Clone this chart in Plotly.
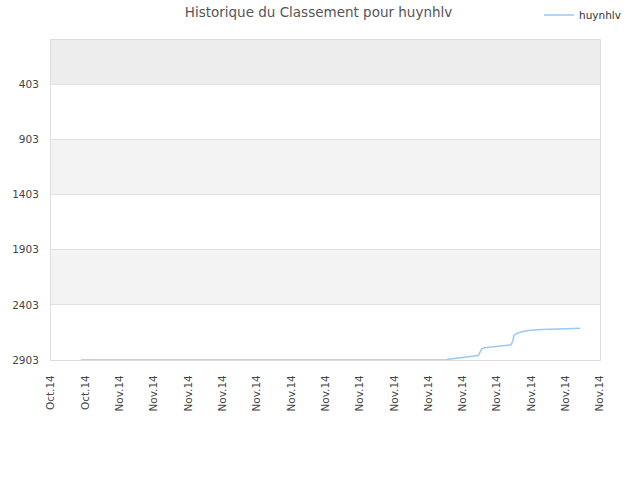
import plotly.graph_objects as go

# Data
dates = [
    "2014-10-30 18:00", "2014-11-21 02:00", "2014-11-21 03:20", "2014-11-21 15:30",
    "2014-11-22 04:30", "2014-11-22 16:00", "2014-11-22 21:50", "2014-11-23 00:10",
    "2014-11-23 02:30", "2014-11-23 07:10", "2014-11-23 18:45", "2014-11-24 06:30",
    "2014-11-24 19:30", "2014-11-24 21:50", "2014-11-24 23:45", "2014-11-25 03:30",
    "2014-11-25 10:30", "2014-11-25 19:40", "2014-11-26 14:25", "2014-11-28 01:20",
    "2014-11-28 20:00",
]
ranks = [
    2903, 2903, 2896, 2887,
    2880, 2869, 2862, 2832,
    2802, 2792, 2783, 2774,
    2765, 2733, 2681, 2661,
    2647, 2636, 2627, 2620,
    2615,
]

x_tick_dates = [
    "2014-10-29", "2014-10-31", "2014-11-02", "2014-11-04", "2014-11-06",
    "2014-11-08", "2014-11-10", "2014-11-12", "2014-11-14", "2014-11-16",
    "2014-11-18", "2014-11-20", "2014-11-22", "2014-11-24", "2014-11-26",
    "2014-11-28", "2014-11-30",
]
x_tick_labels = ["Oct.14", "Oct.14"] + ["Nov.14"] * 15
y_ticks = [403, 903, 1403, 1903, 2403, 2903]
y_range = [2903, 3]

fig = go.Figure()
fig.add_trace(go.Scatter(
    x=dates, y=ranks, mode="lines", name="huynhlv",
    line=dict(color="#99c9f7", width=1.5),
))

# alternating bands
band_edges = [y_range[1]] + y_ticks
for i in range(len(band_edges) - 1):
    lo, hi = band_edges[i], band_edges[i + 1]
    idx_from_bottom = len(band_edges) - 2 - i
    if i == 0:
        color = "#ededed"
    elif idx_from_bottom % 2 == 1:
        color = "#f3f3f3"
    else:
        continue
    fig.add_shape(type="rect", xref="paper", yref="y", x0=0, x1=1, y0=lo, y1=hi,
                  fillcolor=color, line_width=0, layer="below")

tick_font = dict(family="DejaVu Sans", size=10.5, color="#444444")

fig.update_layout(
    width=640, height=480,
    margin=dict(l=51, r=40, t=40, b=120, autoexpand=False),
    paper_bgcolor="white", plot_bgcolor="white",
    font=dict(family="DejaVu Sans", size=9, color="#333333"),
    title=dict(text="Historique du Classement pour huynhlv", x=318.5 / 640, xanchor="center",
               xref="container", yref="container",
               y=1 - 12 / 480, yanchor="middle", font=dict(size=13.5, color="#555555")),
    showlegend=True,
    legend=dict(xref="container", yref="container", x=626 / 640, xanchor="right",
                y=1 - 15 / 480, yanchor="middle", bgcolor="rgba(0,0,0,0)",
                font=dict(size=10.5, color="#333333"), itemwidth=30),
    xaxis=dict(
        type="date", range=["2014-10-29", "2014-11-30"], automargin=False,
        tickmode="array", tickvals=x_tick_dates, ticktext=x_tick_labels,
        tickangle=-90, showgrid=False, zeroline=False,
        showline=True, linecolor="#dddddd", mirror=True,
        ticks="outside", ticklen=10, tickcolor="rgba(0,0,0,0)",
        tickfont=tick_font,
    ),
    yaxis=dict(
        range=y_range, tickmode="array", tickvals=y_ticks, automargin=False,
        showgrid=True, gridcolor="#e0e0e0", zeroline=False,
        showline=True, linecolor="#dddddd", mirror=True,
        ticks="outside", ticklen=9, tickcolor="rgba(0,0,0,0)",
        tickfont=tick_font,
    ),
)

fig.write_html("out.html", config={"displayModeBar": False},
               post_script="document.body.style.margin='0';")
